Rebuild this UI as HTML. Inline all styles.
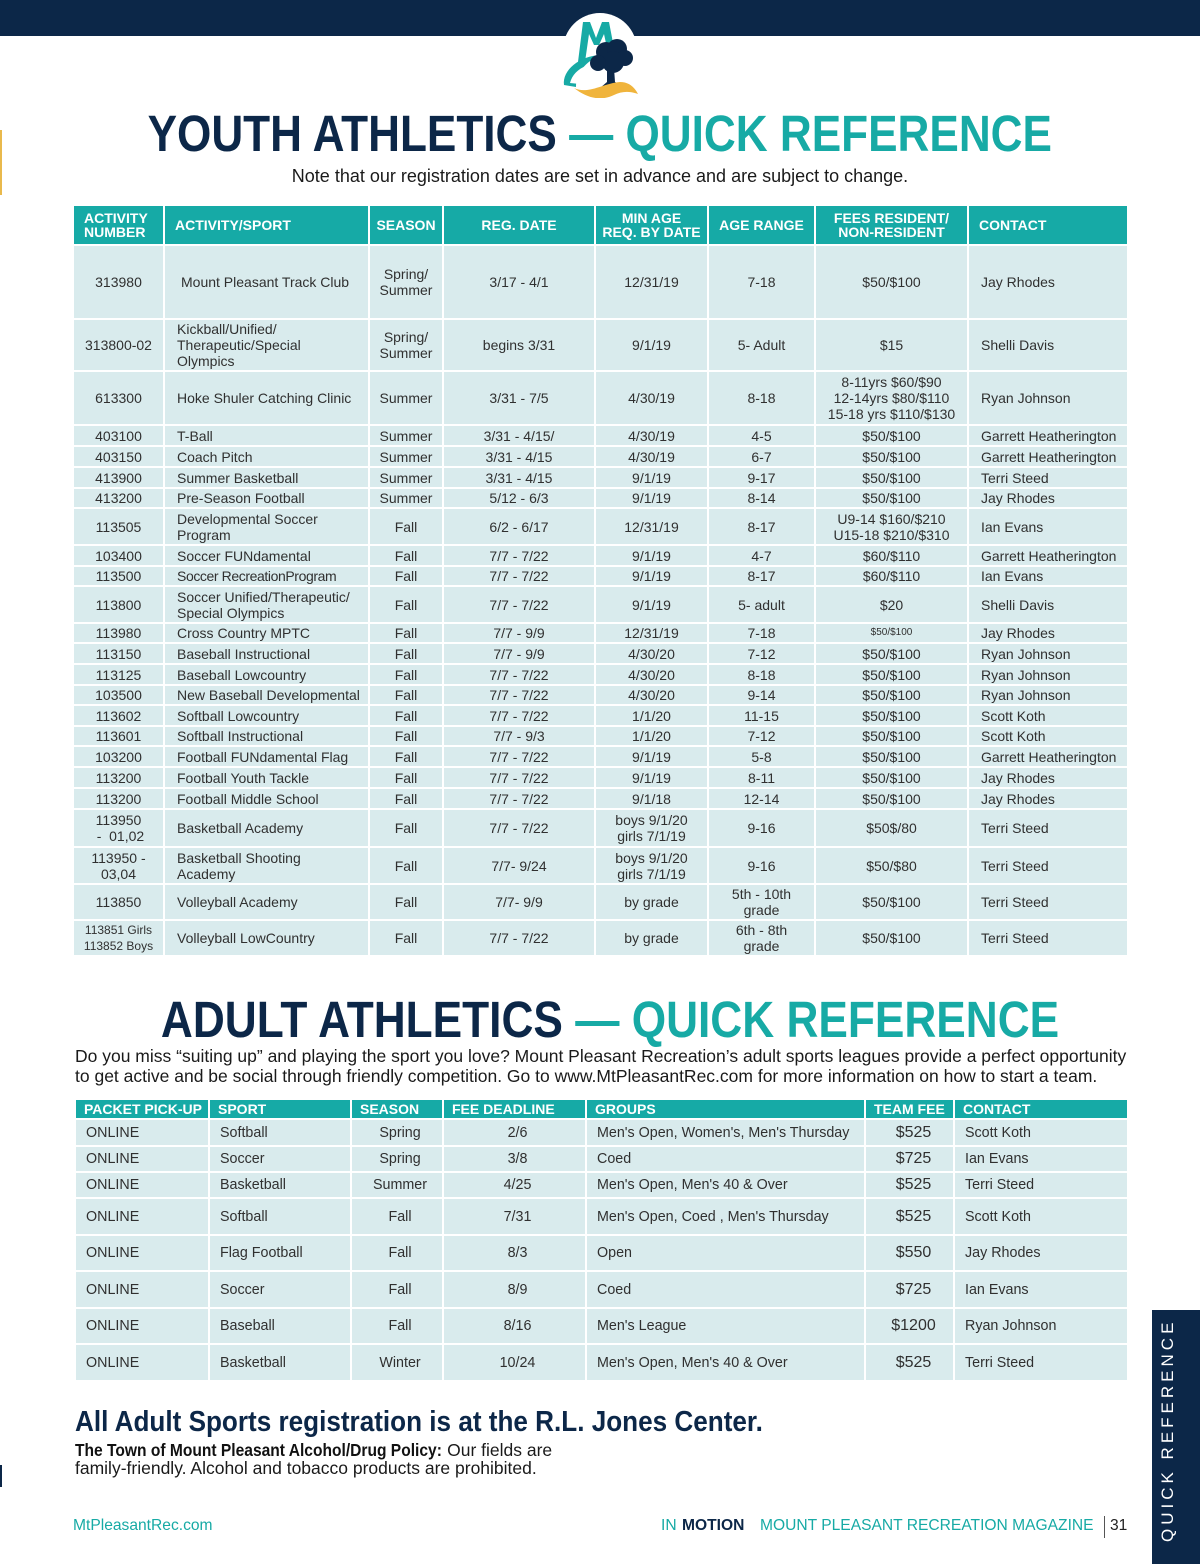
<!DOCTYPE html>
<html>
<head>
<meta charset="utf-8">
<style>
*{margin:0;padding:0;box-sizing:border-box;}
html,body{width:1200px;height:1564px;background:#fff;overflow:hidden;}
body{position:relative;font-family:"Liberation Sans",Arial,sans-serif;color:#2b2b2b;}
.abs{position:absolute;}
.topbar{left:0;top:0;width:1200px;height:36px;background:#0c2748;}
.title{left:0;width:1200px;text-align:center;font-size:51px;line-height:51px;font-weight:bold;white-space:nowrap;}
.title span.in{display:inline-block;transform:scaleX(0.865);transform-origin:50% 50%;}
.navy{color:#0c2748;}
.teal{color:#17aaa5;}
.note{left:0;width:1200px;text-align:center;font-size:18px;line-height:18px;color:#1a1a1a;}
.grid{position:absolute;display:grid;gap:2px;}
.grid>div{background:#d9ebed;display:flex;align-items:center;justify-content:center;text-align:center;font-size:14px;line-height:16px;color:#303030;white-space:nowrap;}
.grid>div.l{justify-content:flex-start;text-align:left;padding-left:12px;}
.grid>div.h{background:#16aaa6;color:#fff;font-weight:bold;line-height:14px;}
.yt{left:74px;top:206px;grid-template-columns:89px 203px 72px 150px 111px 105px 151px 158px;
grid-template-rows:38px 72px 50px 52px 19px 19px 19px 18px 35px 19px 18px 35px 18px 19px 19px 18px 19px 18px 19px 19px 19px 36px 35px 34px 34px;}
.yt>div.hl{justify-content:flex-start;text-align:left;padding-left:10px;}
.at{left:76px;top:1100px;grid-template-columns:132px 140px 90px 141px 277px 87px 172px;
grid-template-rows:18px 25px 24px 24px 35px 34px 35px 34px 35px;}
.at>div{font-size:14.3px;}
.at>div.h{justify-content:flex-start;padding-left:8px;font-size:14px;}
.at>div.l{padding-left:10px;}
.at>div.c{padding-left:6px;}
.at>div.fee{font-size:16px;padding-left:8px;}
.para{left:75px;font-size:17.5px;line-height:20px;color:#1a1a1a;white-space:nowrap;}
.allad{left:75px;top:1408px;font-size:29px;line-height:29px;font-weight:bold;color:#0c2748;white-space:nowrap;}
.allad span{display:inline-block;transform:scaleX(0.9);transform-origin:0 50%;}
.policy{left:75px;top:1441px;font-size:17.5px;line-height:18px;color:#1a1a1a;white-space:nowrap;}
.policy b{display:inline-block;color:#111;transform:scaleX(0.89);transform-origin:0 50%;margin-right:-45px;}
.foot{font-size:15.6px;line-height:18px;top:1517px;white-space:nowrap;}
.tab{left:1152px;top:1310px;width:48px;height:254px;background:#0c2748;}
.tabtxt{left:1158px;top:1316px;writing-mode:vertical-rl;transform:rotate(180deg);color:#fff;font-size:17px;letter-spacing:4px;line-height:20px;white-space:nowrap;height:226px;}
</style>
</head>
<body>
<div class="abs topbar"></div>
<svg class="abs" style="left:560px;top:12px" width="80" height="86" viewBox="0 0 80 86">
  <circle cx="40" cy="38" r="37" fill="#fff"/>
  <path d="M18 50 L23 10 L30 10 L36 26 L42 10 L49 10 L54 36 L47 36 L44 22 L39 33 L34 33 L29 22 L25 50 Z" fill="#17aaa5"/>
  <path d="M4 73 C2 58 20 44 40 43 C26 50 16 60 16 75 Z" fill="#17aaa5"/>
  <path d="M10 71 C12 63 18 57 26 54 C20 60 18 66 20 72 Z" fill="#fff"/>
  <circle cx="46" cy="40" r="10" fill="#0c2748"/>
  <circle cx="57" cy="37" r="10" fill="#0c2748"/>
  <circle cx="65" cy="46" r="8" fill="#0c2748"/>
  <circle cx="53" cy="50" r="11" fill="#0c2748"/>
  <circle cx="38" cy="51" r="8" fill="#0c2748"/>
  <path d="M47 56 L54 56 L55 70 L66 76 L40 76 L47 70 Z" fill="#0c2748"/>
  <path d="M14 76 C28 83 44 71 60 70 C68 70 74 74 78 82 C70 79 62 79 54 83 C42 89 28 87 14 76 Z" fill="#f0b43c"/>
</svg>
<div class="abs" style="left:0;top:130px;width:2px;height:65px;background:#e9b94c"></div>
<div class="abs" style="left:0;top:1465px;width:2px;height:22px;background:#0c2748"></div>

<div class="abs title" style="top:108px"><span class="in"><span class="navy">YOUTH ATHLETICS</span> <span class="teal">— QUICK REFERENCE</span></span></div>
<div class="abs note" style="top:167px">Note that our registration dates are set in advance and are subject to change.</div>

<div class="grid yt">
<div class="h hl">ACTIVITY<br>NUMBER</div><div class="h hl">ACTIVITY/SPORT</div><div class="h">SEASON</div><div class="h">REG. DATE</div><div class="h">MIN AGE<br>REQ. BY DATE</div><div class="h">AGE RANGE</div><div class="h">FEES RESIDENT/<br>NON-RESIDENT</div><div class="h hl">CONTACT</div>

<div>313980</div><div class="l" style="padding-left:16px">Mount Pleasant Track Club</div><div>Spring/<br>Summer</div><div>3/17 - 4/1</div><div>12/31/19</div><div>7-18</div><div>$50/$100</div><div class="l">Jay Rhodes</div>
<div>313800-02</div><div class="l">Kickball/Unified/<br>Therapeutic/Special<br>Olympics</div><div>Spring/<br>Summer</div><div>begins 3/31</div><div>9/1/19</div><div>5- Adult</div><div>$15</div><div class="l">Shelli Davis</div>
<div>613300</div><div class="l">Hoke Shuler Catching Clinic</div><div>Summer</div><div>3/31 - 7/5</div><div>4/30/19</div><div>8-18</div><div>8-11yrs $60/$90<br>12-14yrs $80/$110<br>15-18 yrs $110/$130</div><div class="l">Ryan Johnson</div>
<div>403100</div><div class="l">T-Ball</div><div>Summer</div><div>3/31 - 4/15/</div><div>4/30/19</div><div>4-5</div><div>$50/$100</div><div class="l">Garrett Heatherington</div>
<div>403150</div><div class="l">Coach Pitch</div><div>Summer</div><div>3/31 - 4/15</div><div>4/30/19</div><div>6-7</div><div>$50/$100</div><div class="l">Garrett Heatherington</div>
<div>413900</div><div class="l">Summer Basketball</div><div>Summer</div><div>3/31 - 4/15</div><div>9/1/19</div><div>9-17</div><div>$50/$100</div><div class="l">Terri Steed</div>
<div>413200</div><div class="l">Pre-Season Football</div><div>Summer</div><div>5/12 - 6/3</div><div>9/1/19</div><div>8-14</div><div>$50/$100</div><div class="l">Jay Rhodes</div>
<div>113505</div><div class="l">Developmental Soccer<br>Program</div><div>Fall</div><div>6/2 - 6/17</div><div>12/31/19</div><div>8-17</div><div>U9-14 $160/$210<br>U15-18 $210/$310</div><div class="l">Ian Evans</div>
<div>103400</div><div class="l">Soccer FUNdamental</div><div>Fall</div><div>7/7 - 7/22</div><div>9/1/19</div><div>4-7</div><div>$60/$110</div><div class="l">Garrett Heatherington</div>
<div>113500</div><div class="l" style="letter-spacing:-0.4px">Soccer RecreationProgram</div><div>Fall</div><div>7/7 - 7/22</div><div>9/1/19</div><div>8-17</div><div>$60/$110</div><div class="l">Ian Evans</div>
<div>113800</div><div class="l">Soccer Unified/Therapeutic/<br>Special Olympics</div><div>Fall</div><div>7/7 - 7/22</div><div>9/1/19</div><div>5- adult</div><div>$20</div><div class="l">Shelli Davis</div>
<div>113980</div><div class="l">Cross Country MPTC</div><div>Fall</div><div>7/7 - 9/9</div><div>12/31/19</div><div>7-18</div><div style="font-size:10px">$50/$100</div><div class="l">Jay Rhodes</div>
<div>113150</div><div class="l">Baseball Instructional</div><div>Fall</div><div>7/7 - 9/9</div><div>4/30/20</div><div>7-12</div><div>$50/$100</div><div class="l">Ryan Johnson</div>
<div>113125</div><div class="l">Baseball Lowcountry</div><div>Fall</div><div>7/7 - 7/22</div><div>4/30/20</div><div>8-18</div><div>$50/$100</div><div class="l">Ryan Johnson</div>
<div>103500</div><div class="l">New Baseball Developmental</div><div>Fall</div><div>7/7 - 7/22</div><div>4/30/20</div><div>9-14</div><div>$50/$100</div><div class="l">Ryan Johnson</div>
<div>113602</div><div class="l">Softball Lowcountry</div><div>Fall</div><div>7/7 - 7/22</div><div>1/1/20</div><div>11-15</div><div>$50/$100</div><div class="l">Scott Koth</div>
<div>113601</div><div class="l">Softball Instructional</div><div>Fall</div><div>7/7 - 9/3</div><div>1/1/20</div><div>7-12</div><div>$50/$100</div><div class="l">Scott Koth</div>
<div>103200</div><div class="l">Football FUNdamental Flag</div><div>Fall</div><div>7/7 - 7/22</div><div>9/1/19</div><div>5-8</div><div>$50/$100</div><div class="l">Garrett Heatherington</div>
<div>113200</div><div class="l">Football Youth Tackle</div><div>Fall</div><div>7/7 - 7/22</div><div>9/1/19</div><div>8-11</div><div>$50/$100</div><div class="l">Jay Rhodes</div>
<div>113200</div><div class="l">Football Middle School</div><div>Fall</div><div>7/7 - 7/22</div><div>9/1/18</div><div>12-14</div><div>$50/$100</div><div class="l">Jay Rhodes</div>
<div>113950<br>&nbsp;- &nbsp;01,02</div><div class="l">Basketball Academy</div><div>Fall</div><div>7/7 - 7/22</div><div>boys 9/1/20<br>girls 7/1/19</div><div>9-16</div><div>$50$/80</div><div class="l">Terri Steed</div>
<div>113950 -<br>03,04</div><div class="l">Basketball Shooting<br>Academy</div><div>Fall</div><div>7/7- 9/24</div><div>boys 9/1/20<br>girls 7/1/19</div><div>9-16</div><div>$50/$80</div><div class="l">Terri Steed</div>
<div>113850</div><div class="l">Volleyball Academy</div><div>Fall</div><div>7/7- 9/9</div><div>by grade</div><div>5th - 10th<br>grade</div><div>$50/$100</div><div class="l">Terri Steed</div>
<div style="font-size:12px">113851 Girls<br>113852 Boys</div><div class="l">Volleyball LowCountry</div><div>Fall</div><div>7/7 - 7/22</div><div>by grade</div><div>6th - 8th<br>grade</div><div>$50/$100</div><div class="l">Terri Steed</div>
</div>

<div class="abs title" style="top:994px;left:10px"><span class="in" style="transform:scaleX(0.867)"><span class="navy">ADULT ATHLETICS</span> <span class="teal">— QUICK REFERENCE</span></span></div>
<div class="abs para" style="top:1046px">Do you miss “suiting up” and playing the sport you love? Mount Pleasant Recreation’s adult sports leagues provide a perfect opportunity</div>
<div class="abs para" style="top:1066px">to get active and be social through friendly competition. Go to www.MtPleasantRec.com for more information on how to start a team.</div>

<div class="grid at">
<div class="h">PACKET PICK-UP</div><div class="h">SPORT</div><div class="h">SEASON</div><div class="h">FEE DEADLINE</div><div class="h">GROUPS</div><div class="h">TEAM FEE</div><div class="h">CONTACT</div>
<div class="l">ONLINE</div><div class="l">Softball</div><div class="c">Spring</div><div class="c">2/6</div><div class="l">Men's Open, Women's, Men's Thursday</div><div class="fee">$525</div><div class="l">Scott Koth</div>
<div class="l">ONLINE</div><div class="l">Soccer</div><div class="c">Spring</div><div class="c">3/8</div><div class="l">Coed</div><div class="fee">$725</div><div class="l">Ian Evans</div>
<div class="l">ONLINE</div><div class="l">Basketball</div><div class="c">Summer</div><div class="c">4/25</div><div class="l">Men's Open, Men's 40 &amp; Over</div><div class="fee">$525</div><div class="l">Terri Steed</div>
<div class="l">ONLINE</div><div class="l">Softball</div><div class="c">Fall</div><div class="c">7/31</div><div class="l">Men's Open, Coed , Men's Thursday</div><div class="fee">$525</div><div class="l">Scott Koth</div>
<div class="l">ONLINE</div><div class="l">Flag Football</div><div class="c">Fall</div><div class="c">8/3</div><div class="l">Open</div><div class="fee">$550</div><div class="l">Jay Rhodes</div>
<div class="l">ONLINE</div><div class="l">Soccer</div><div class="c">Fall</div><div class="c">8/9</div><div class="l">Coed</div><div class="fee">$725</div><div class="l">Ian Evans</div>
<div class="l">ONLINE</div><div class="l">Baseball</div><div class="c">Fall</div><div class="c">8/16</div><div class="l">Men's League</div><div class="fee">$1200</div><div class="l">Ryan Johnson</div>
<div class="l">ONLINE</div><div class="l">Basketball</div><div class="c">Winter</div><div class="c">10/24</div><div class="l">Men's Open, Men's 40 &amp; Over</div><div class="fee">$525</div><div class="l">Terri Steed</div>
</div>

<div class="abs allad"><span>All Adult Sports registration is at the R.L. Jones Center.</span></div>
<div class="abs policy"><b>The Town of Mount Pleasant Alcohol/Drug Policy:</b> Our fields are<br>family-friendly. Alcohol and tobacco products are prohibited.</div>

<div class="abs foot teal" style="left:73px">MtPleasantRec.com</div>
<div class="abs foot teal" style="left:661px">IN</div>
<div class="abs foot navy" style="left:682px;font-weight:bold">MOTION</div>
<div class="abs foot teal" style="left:760px">MOUNT PLEASANT RECREATION MAGAZINE</div>
<div class="abs" style="left:1104px;top:1516px;width:1px;height:22px;background:#555"></div>
<div class="abs foot" style="left:1110px;color:#222">31</div>

<div class="abs tab"></div>
<div class="abs tabtxt">QUICK REFERENCE</div>
</body>
</html>
